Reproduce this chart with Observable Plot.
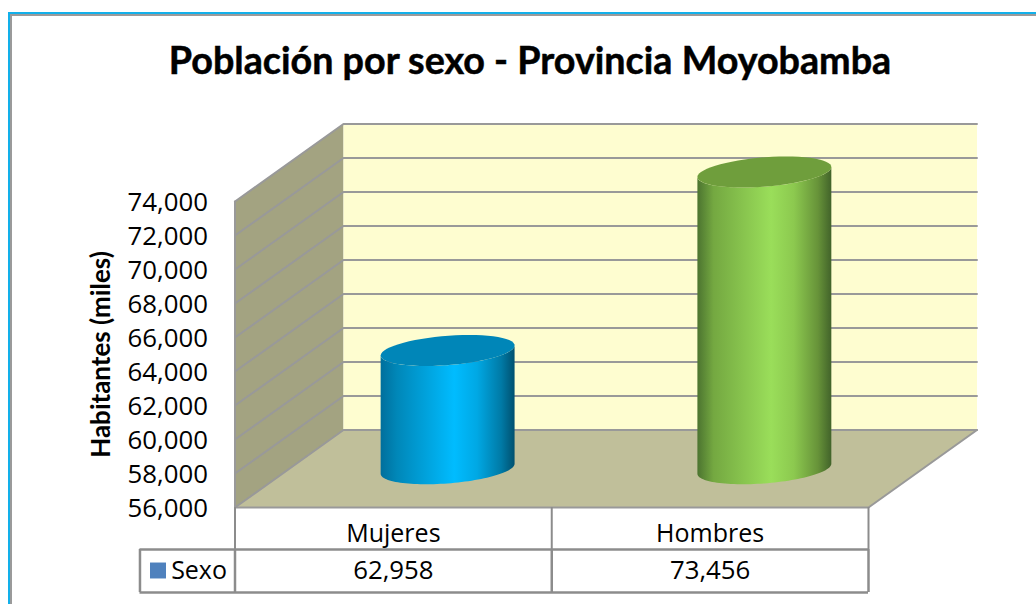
<!DOCTYPE html>
<html>
<head>
<meta charset="utf-8">
<script src="https://cdn.jsdelivr.net/npm/d3@7"></script>
<script src="https://cdn.jsdelivr.net/npm/@observablehq/plot@0.6"></script>
<style>
  html, body { margin: 0; padding: 0; background: #fff; width: 1036px; height: 604px; overflow: hidden; }
  body { position: relative; font-family: "Open Sans", sans-serif; }
  #frame { position: absolute; left: 8px; top: 12px; right: 0; bottom: -4px; border: 2px solid #12b0ea; border-right: 0; box-sizing: border-box; }
  #frame::after { content: ""; position: absolute; inset: 0; border: 2px solid #9a9a9a; border-right: 0; }
  #title { position: relative; height: 100px; margin: 0; padding: 0; box-sizing: border-box; width: 1060px; text-align: center; font: 700 37.7px/120px Lato, sans-serif; -webkit-text-stroke: 0.5px #000; color: #000; white-space: nowrap; }
  #chart { position: relative; }
  #chart svg { display: block; }
  [aria-label="y-axis label"], [aria-label="y-axis label"] text { font-weight: 700 !important; font-size: 26px !important; font-family: Lato, sans-serif !important; }
</style>
</head>
<body>
<div id="frame"></div>
<h1 id="title">Población por sexo - Provincia Moyobamba</h1>
<div id="chart"></div>
<script>
const categories = ["Mujeres", "Hombres"];
const values = [62958, 73456];
const seriesName = "Sexo";
const tickValues = [56000, 58000, 60000, 62000, 64000, 66000, 68000, 70000, 72000, 74000];
const categoryEdges = [0, 1, 2];

// Oblique 3D box: depth 1 shifts a point by this much in scale units
const depthX = 0.3425;
const depthY = 4559;
const legendLeft = -0.3;
const radius = 0.2;
const base = tickValues[0], top_ = tickValues[tickValues.length - 1];

const project = (c, d, v) => ({x: c + d * depthX, y: v + d * depthY});
const wall = (pts) => pts.map(([c, d, v]) => project(c, d, v));

const sideWall = wall([[0, 0, base], [0, 1, base], [0, 1, top_], [0, 0, top_]]);
const backWall = wall([[0, 1, base], [2, 1, base], [2, 1, top_], [0, 1, top_]]);
const floor = wall([[0, 0, base], [2, 0, base], [2, 1, base], [0, 1, base]]);
const floorEdges = wall([[0, 0, base], [2, 0, base], [2, 1, base]]);
const frontEdge = wall([[0, 0, base], [0, 0, top_]]);

const gridLines = tickValues.flatMap((t) =>
  wall([[0, 0, t], [0, 1, t], [2, 1, t]]).map((p) => ({...p, tick: t}))
);

const arc = (i, v, t0, t1) => d3.range(61).map((k) => {
  const t = t0 + (t1 - t0) * k / 60;
  return project(i + 0.5 + radius * Math.cos(t), 0.5 + radius * Math.sin(t), v);
});
const tStar = Math.atan(depthX);
const body = (i, v) => [...arc(i, base, tStar, tStar - Math.PI), ...arc(i, v, tStar - Math.PI, tStar)];
const cap = (i, v) => arc(i, v, 0, 2 * Math.PI);

const area = (pts, fill) => Plot.line(pts, {x: "x", y: "y", fill, stroke: "none"});

const gradient = (id, stops) => () => {
  const defs = d3.create("svg:defs");
  const g = defs.append("linearGradient").attr("id", id).attr("x1", 0).attr("x2", 1).attr("y1", 0).attr("y2", 0);
  stops.forEach(([o, c]) => g.append("stop").attr("offset", o).attr("stop-color", c));
  return defs.node();
};

const fs = 25.8;
const tableFs = 25;
const gray = "#999999";
const tableGray = "#8c8c8c";

const plot = Plot.plot({
  width: 1036,
  height: 504,
  marginLeft: 234.5,
  marginRight: 168,
  marginTop: 101,
  marginBottom: 97,
  style: {background: "transparent", fontFamily: "'Open Sans', sans-serif", color: "#000", overflow: "visible"},
  x: {domain: [0, 2], axis: null},
  y: {domain: [base, top_], axis: null},
  marks: [
    gradient("blueBody", [[0, "#006f9c"], [0.12, "#0087b8"], [0.55, "#00bcff"], [0.72, "#00a8e4"], [0.9, "#007aa6"], [1, "#00506f"]]),
    gradient("greenBody", [[0, "#4c7430"], [0.12, "#74a841"], [0.55, "#9ade5a"], [0.72, "#8cc94f"], [0.9, "#679339"], [1, "#42632a"]]),
    area(sideWall, "#a3a381"),
    area(backWall, "#fefdd0"),
    area(floor, "#c0bf9a"),
    Plot.line(gridLines, {x: "x", y: "y", z: "tick", stroke: gray, strokeWidth: 2}),
    Plot.line(floorEdges, {x: "x", y: "y", stroke: gray, strokeWidth: 2}),
    Plot.line(frontEdge, {x: "x", y: "y", stroke: gray, strokeWidth: 2}),
    area(body(0, values[0]), "url(#blueBody)"),
    area(cap(0, values[0]), "#0086b8"),
    area(body(1, values[1]), "url(#greenBody)"),
    area(cap(1, values[1]), "#6f9e3c"),
    Plot.axisY({
      ticks: tickValues,
      tickSize: 0,
      tickPadding: 27,
      tickFormat: d3.format(","),
      fontSize: fs,
      dy: 1.5,
      label: "Habitantes (miles)",
      labelAnchor: "center",
      labelArrow: "none",
      labelOffset: 143
    }),
    Plot.ruleX(categoryEdges, {insetTop: 306, insetBottom: -42, stroke: tableGray, strokeWidth: 2}),
    Plot.ruleX([legendLeft, ...categoryEdges], {insetTop: 348, insetBottom: -85, stroke: tableGray, strokeWidth: 2.5}),
    Plot.ruleY([base], {x1: legendLeft, x2: 2, dy: 42, stroke: tableGray, strokeWidth: 2.5}),
    Plot.ruleY([base], {x1: legendLeft, x2: 2, dy: 85, stroke: tableGray, strokeWidth: 2.5}),
    Plot.text(categories, {x: (d, i) => i + 0.5, text: (d) => d, frameAnchor: "bottom", lineAnchor: "middle", dy: 26, fontSize: tableFs, fill: "#000"}),
    Plot.text(values, {x: (d, i) => i + 0.5, text: (d) => d3.format(",")(d), frameAnchor: "bottom", lineAnchor: "middle", dy: 63, fontSize: fs, fill: "#000"}),
    Plot.text([seriesName], {x: 0, text: (d) => d, frameAnchor: "bottom", lineAnchor: "middle", textAnchor: "end", dx: -8, dy: 63, fontSize: tableFs, fill: "#000"}),
    Plot.dot([seriesName], {x: 0, frameAnchor: "bottom", symbol: "square", r: 9, dx: -77, dy: 63, fill: "#4f81bd", stroke: "none"})
  ]
});
document.getElementById("chart").appendChild(plot);
</script>
</body>
</html>
